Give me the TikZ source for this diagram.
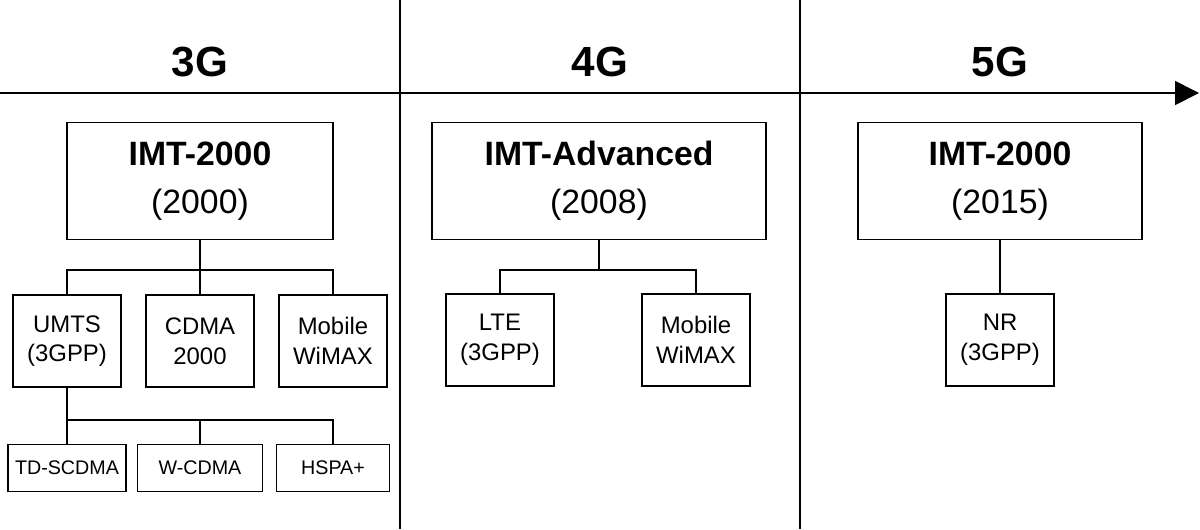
\documentclass[tikz,border=0pt]{standalone}
\usepackage{fontspec}
\setmainfont{Liberation Sans}
\usetikzlibrary{positioning,arrows.meta}

\tikzset{
  era/.style={font=\fontsize{30}{34}\selectfont\bfseries},
  stdbox/.style={draw, thick, minimum width=6.65cm, minimum height=2.92cm, align=center, font=\fontsize{24}{34}\selectfont},
  techbox/.style={draw, thick, minimum width=2.7cm, minimum height=2.3cm, align=center, font=\fontsize{17}{21}\selectfont},
  subbox/.style={draw, thick, minimum height=1.18cm, align=center, font=\fontsize{14}{16}\selectfont},
}

\begin{document}
\begin{tikzpicture}[x=0.025cm, y=-0.025cm]

\useasboundingbox (0,0) rectangle (1200,529);

% time axis and eras
\draw[very thick, -{Triangle[length=0.6cm, width=0.6cm]}] (0,93) -- (1199,93);
\draw[very thick] (400,0) -- (400,529);
\draw[very thick] (800,0) -- (800,529);
\node[era] (g3) at (200,62) {3G};
\node[era] (g4) at (600,62) {4G};
\node[era] (g5) at (1000,62) {5G};

% 3G
\node[stdbox] (imt) at (200,181) {\textbf{IMT-2000}\\(2000)};
\node[techbox] (umts) at (67,341) {UMTS\\(3GPP)};
\node[techbox] (cdma) at (200,341) {CDMA\\2000};
\node[techbox] (wimaxa) at (333,341) {Mobile\\WiMAX};
\node[subbox, minimum width=2.95cm] (tdscdma) at (67,468) {TD-SCDMA};
\node[subbox, minimum width=3.12cm] (wcdma) at (200,468) {W-CDMA};
\node[subbox, minimum width=2.82cm] (hspa) at (333,468) {HSPA+};

\draw[thick] (imt.south) -- (200,270);
\draw[thick] (umts.north) |- (wimaxa.north |- 0,270) -- (wimaxa.north);
\draw[thick] (cdma.north) -- (200,270);
\draw[thick] (umts.south) -- (tdscdma.north);
\draw[thick] (67,420) -| (hspa.north);
\draw[thick] (wcdma.north) -- (200,420);

% 4G
\node[stdbox, minimum width=8.35cm] (imtadv) at (599,181) {\textbf{IMT-Advanced}\\(2008)};
\node[techbox] (lte) at (500,340) {LTE\\(3GPP)};
\node[techbox] (wimaxb) at (696,340) {Mobile\\WiMAX};
\draw[thick] (imtadv.south) -- (imtadv.south |- 0,270);
\draw[thick] (lte.north) |- (wimaxb.north |- 0,270) -- (wimaxb.north);

% 5G
\node[stdbox, minimum width=7.1cm] (imtb) at (1000,181) {\textbf{IMT-2000}\\(2015)};
\node[techbox] (nr) at (1000,340) {NR\\(3GPP)};
\draw[thick] (imtb.south) -- (nr.north);

\end{tikzpicture}
\end{document}
